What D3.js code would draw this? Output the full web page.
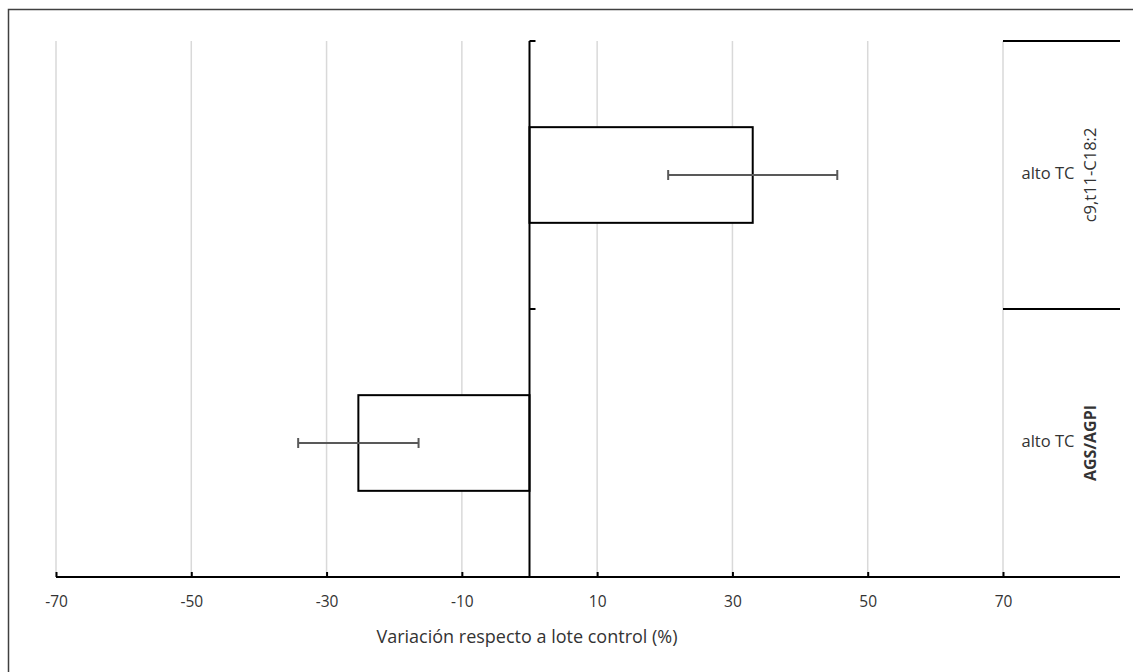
<!DOCTYPE html>
<html><head><meta charset="utf-8">
<script src="https://cdn.jsdelivr.net/npm/d3@7"></script>
<style>body{margin:0;background:#fff;} text{font-family:"Open Sans","Liberation Sans",sans-serif;}</style>
</head><body>
<svg id="c" width="1133" height="672"></svg>
<script>
const categories = ["c9,t11-C18:2", "AGS/AGPI"];
const subLabels = ["alto TC", "alto TC"];
const values = [33.0, -25.3];
const errors = [12.5, 8.9];
const tickValues = [-70, -50, -30, -10, 10, 30, 50, 70];

(function(){
const svg = d3.select("#c");
svg.append("rect").attr("x",8.5).attr("y",9.5).attr("width",1140).attr("height",680)
  .attr("fill","none").attr("stroke","#404040").attr("stroke-width",1.5);

const pL=56, pR=1003, axisEnd=1120, pT=41, pB=577;
const x = d3.scaleLinear().domain([-70,70]).range([pL,pR]);
const y = d3.scaleBand().domain(categories).range([pT,pB]).paddingInner(0.643).paddingOuter(0.3215);

// gridlines
svg.append("g").selectAll("line").data(tickValues).join("line")
  .attr("x1",d=>x(d)).attr("x2",d=>x(d)).attr("y1",pT).attr("y2",pB)
  .attr("stroke","#d9d9d9").attr("stroke-width",1.5);

// bars
svg.append("g").selectAll("rect").data(values).join("rect")
  .attr("x",(d)=>x(Math.min(0,d))).attr("width",d=>Math.abs(x(d)-x(0)))
  .attr("y",(d,i)=>y(categories[i])).attr("height",y.bandwidth())
  .attr("fill","#fff").attr("stroke","#000").attr("stroke-width",2);

// error bars
const eg = svg.append("g").attr("stroke","#595959").attr("stroke-width",2);
values.forEach((v,i)=>{
  const cy = y(categories[i]) + y.bandwidth()/2;
  eg.append("line").attr("x1",x(v-errors[i])).attr("x2",x(v+errors[i])).attr("y1",cy).attr("y2",cy);
  [v-errors[i], v+errors[i]].forEach(e=>{
    eg.append("line").attr("x1",x(e)).attr("x2",x(e)).attr("y1",cy-5).attr("y2",cy+5);
  });
});

// bottom axis
const xAxis = d3.axisBottom(x).tickValues(tickValues).tickSize(-5).tickFormat(d=>String(d)).tickPadding(19);
const ga = svg.append("g").attr("transform",`translate(0,${pB})`).call(xAxis);
ga.select(".domain").remove();
ga.selectAll(".tick line").attr("stroke","#000").attr("stroke-width",2);
ga.selectAll(".tick text").attr("fill","#333").attr("font-size",15.5).attr("font-weight",500);
svg.append("line").attr("x1",pL).attr("x2",axisEnd).attr("y1",pB).attr("y2",pB)
  .attr("stroke","#000").attr("stroke-width",2);

// category axis at 0
svg.append("line").attr("x1",x(0)).attr("x2",x(0)).attr("y1",pT).attr("y2",pB)
  .attr("stroke","#000").attr("stroke-width",2);
[pT,(pT+pB)/2].forEach(b=>{
  svg.append("line").attr("x1",x(0)).attr("x2",x(0)+6).attr("y1",b).attr("y2",b)
    .attr("stroke","#000").attr("stroke-width",2);
  svg.append("line").attr("x1",x(70)).attr("x2",axisEnd).attr("y1",b).attr("y2",b)
    .attr("stroke","#000").attr("stroke-width",2);
});

// category labels
categories.forEach((c,i)=>{
  const cy = y(c) + y.bandwidth()/2;
  svg.append("text").attr("x",1048).attr("y",cy).attr("text-anchor","middle")
    .attr("dominant-baseline","middle").attr("font-size",16.5).attr("font-weight",500).attr("fill","#333").text(subLabels[i]);
  svg.append("text").attr("transform",`translate(1092,${cy}) rotate(-90)`).attr("text-anchor","middle")
    .attr("dominant-baseline","middle").attr("font-size",i===1?16:16.5)
    .attr("font-weight",i===1?"bold":500).attr("fill","#333").text(c);
});

// axis title
svg.append("text").attr("x",527).attr("y",643).attr("text-anchor","middle")
  .attr("font-size",18).attr("font-weight",500).attr("fill","#333").text("Variación respecto a lote control (%)");
})();
</script>
</body></html>
